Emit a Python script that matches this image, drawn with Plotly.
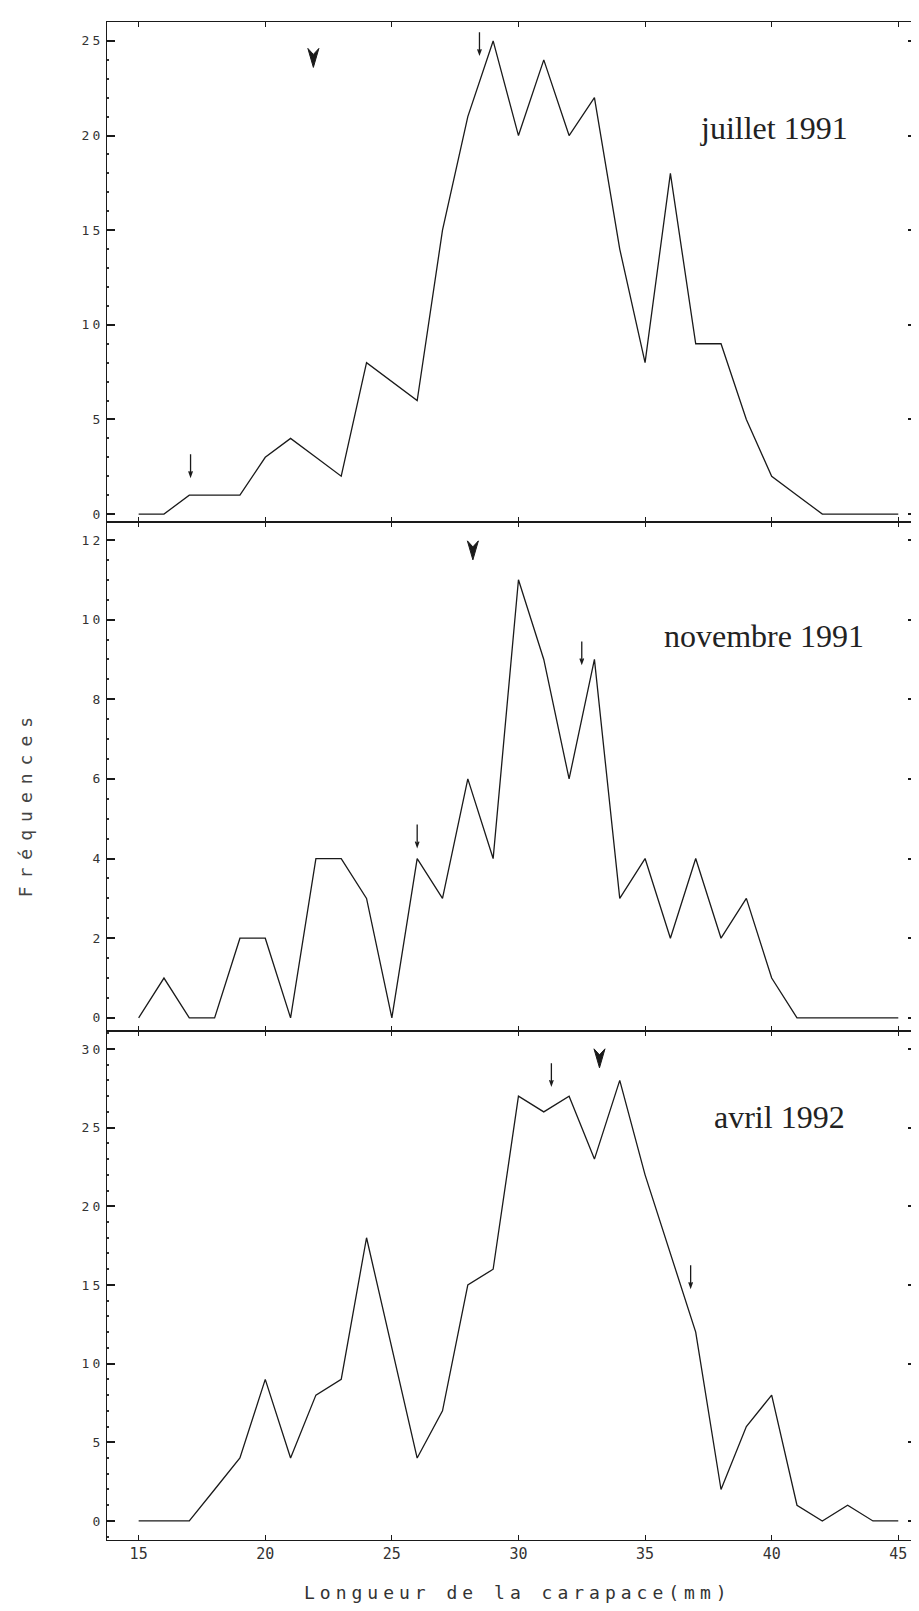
import plotly.graph_objects as go
from plotly.subplots import make_subplots

# Longueur de la carapace (mm), classes de 1 mm
longueur = list(range(15, 46))

juillet_1991 = [0, 0, 1, 1, 1, 3, 4, 3, 2, 8, 7, 6, 15, 21, 25, 20, 24, 20, 22, 14, 8, 18, 9, 9, 5, 2, 1, 0, 0, 0, 0]
novembre_1991 = [0, 1, 0, 0, 2, 2, 0, 4, 4, 3, 0, 4, 3, 6, 4, 11, 9, 6, 9, 3, 4, 2, 4, 2, 3, 1, 0, 0, 0, 0, 0]
avril_1992 = [0, 0, 0, 2, 4, 9, 4, 8, 9, 18, 11, 4, 7, 15, 16, 27, 26, 27, 23, 28, 22, 17, 12, 2, 6, 8, 1, 0, 1, 0, 0]

panel_labels = ["juillet 1991", "novembre 1991", "avril 1992"]
label_x = [40.1, 39.7, 40.3]
label_y = [20.4, 9.6, 25.7]

# flèches pleines (mode principal) : x, pointe y
mode_x = [21.9, 28.2, 33.2]
mode_y = [23.6, 11.5, 28.8]

# flèches fines (cohortes) : x, pointe y par panneau
cohort_x = [[17.05, 28.46], [26.0, 32.5], [31.3, 36.8]]
cohort_y = [[2.0, 24.3], [4.3, 8.9], [27.7, 14.85]]

y_ranges = [[-0.42, 26.0], [-0.33, 12.45], [-1.21, 31.14]]
y_ticks = [list(range(0, 26, 5)), list(range(0, 13, 2)), list(range(0, 31, 5))]
y_minor = [1, 0.5, 1]
y_domains = [[0.6706, 1.0], [0.3353, 0.6706], [0.0, 0.3353]]
x_ticks = list(range(15, 46, 5))

series = [juillet_1991, novembre_1991, avril_1992]

INK = "#1a1a1a"
MONO = "DejaVu Sans Mono"


def spaced(t, px):
    return f'<span style="letter-spacing:{px}px">{t}</span>'


fig = make_subplots(rows=3, cols=1, shared_xaxes=True, vertical_spacing=0)

for i, vals in enumerate(series):
    fig.add_trace(go.Scatter(
        x=longueur, y=vals, mode="lines",
        line=dict(color=INK, width=1.3),
        showlegend=False, hoverinfo="x+y"
    ), row=i + 1, col=1)

for i in range(3):
    fig.update_yaxes(
        row=i + 1, col=1,
        domain=y_domains[i],
        range=y_ranges[i],
        tickvals=y_ticks[i],
        ticktext=[spaced(v, 3) for v in y_ticks[i]],
        ticks="inside", ticklen=8, tickwidth=1.5, tickcolor=INK,
        minor=dict(ticks="inside", ticklen=2, tickwidth=2, dtick=y_minor[i], tickcolor="#333"),
        showline=True, linewidth=1.3, linecolor=INK, mirror="ticks",
        showgrid=False, zeroline=False,
        tickfont=dict(family=MONO, size=13, color="#333"),
        fixedrange=True,
    )
    fig.update_xaxes(
        row=i + 1, col=1,
        range=[13.75, 45.7],
        tickvals=x_ticks,
        ticks="inside", ticklen=5, tickwidth=1, tickcolor=INK,
        showline=True, linewidth=1.3, linecolor=INK, mirror="ticks",
        showgrid=False, zeroline=False,
        tickfont=dict(family=MONO, size=15, color="#333"),
    )

    yref = "y" if i == 0 else f"y{i + 1}"
    xref = "x" if i == 0 else f"x{i + 1}"

    fig.add_annotation(
        x=label_x[i], y=label_y[i], xref=xref, yref=yref,
        text=panel_labels[i], showarrow=False,
        font=dict(family="Liberation Serif", size=32, color="#222"),
        xanchor="center", yanchor="middle"
    )

    # flèche pleine encochée
    fig.add_shape(
        type="path", xref=xref, yref=yref,
        xsizemode="pixel", ysizemode="pixel",
        xanchor=mode_x[i], yanchor=mode_y[i],
        path="M 0 0 L -5.5 19 L 0 13 L 5.5 19 Z",
        fillcolor=INK, line=dict(color=INK, width=1)
    )
    # flèches fines
    for cx, cy in zip(cohort_x[i], cohort_y[i]):
        fig.add_shape(
            type="path", xref=xref, yref=yref,
            xsizemode="pixel", ysizemode="pixel",
            xanchor=cx, yanchor=cy,
            path="M 0 0 L 0 22 M -1.8 5 L 0 0 L 1.8 5",
            line=dict(color=INK, width=1.3)
        )

fig.add_annotation(
    x=0.508, y=-0.0343, xref="paper", yref="paper",
    text=spaced("Longueur de la carapace(mm)", 5), showarrow=False,
    font=dict(family=MONO, size=18, color="#333"),
    xanchor="center", yanchor="middle"
)
fig.add_annotation(
    x=-0.101, y=0.4855, xref="paper", yref="paper",
    text=spaced("Fréquences", 8), showarrow=False, textangle=-90,
    font=dict(family=MONO, size=18, color="#444"),
    xanchor="center", yanchor="middle"
)

# the page body adds an 8px offset, so the figure is sized 8px smaller
fig.update_layout(
    width=911, height=1603,
    margin=dict(l=99, r=3, t=14, b=71),
    plot_bgcolor="white", paper_bgcolor="white",
    showlegend=False,
)

fig.write_html("out.html")
